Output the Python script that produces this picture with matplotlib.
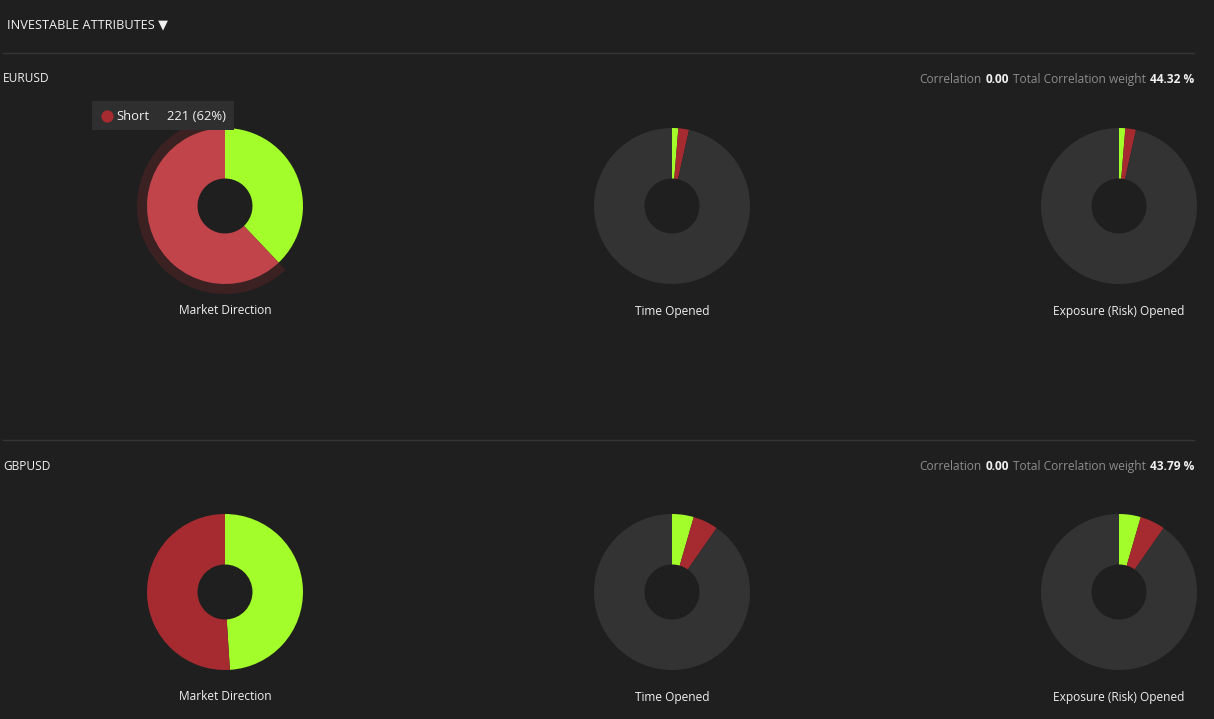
import matplotlib.pyplot as plt
from matplotlib.patches import Rectangle

plt.rcParams['font.family'] = ['Open Sans', 'DejaVu Sans']

# --- data ---
pairs = ["EURUSD", "GBPUSD"]
correlation = [0.00, 0.00]
total_weight = [44.32, 43.79]
chart_titles = ["Market Direction", "Time Opened", "Exposure (Risk) Opened"]
slice_names = ["Long", "Short", "Other"]

# Market Direction: trade counts (Long, Short); others: share in % (Long, Short, Other)
eur_direction = [135, 221]
eur_time = [1.3, 2.2, 96.5]
eur_exposure = [1.3, 2.2, 96.5]
gbp_direction = [49, 51]
gbp_time = [4.5, 5.2, 90.3]
gbp_exposure = [4.5, 5.2, 90.3]

# hovered slice (tooltip): pair 0, chart 0, slice "Short"
hover_pair, hover_chart, hover_slice = 0, 0, 1

BG = "#1f1f1f"
GREEN = "#a3fd2a"
RED = "#a62b31"
RED_HOVER = "#c0444a"
HALO = "#3c2123"
GREY = "#333333"
TXT = "#f0f0f0"
MUTED = "#8c8c8c"

W, H = 1214, 719
fig = plt.figure(figsize=(W / 100, H / 100), dpi=100, facecolor=BG)
renderer = fig.canvas.get_renderer()
bg = fig.add_axes([0, 0, 1, 1])
bg.set_xlim(0, W)
bg.set_ylim(H, 0)
bg.axis("off")

# header
bg.text(7, 25, "INVESTABLE ATTRIBUTES \u25BC", color=TXT, fontsize=9.2,
        va="center", ha="left")

rows = [
    (pairs[0], [eur_direction, eur_time, eur_exposure], 53, 78, 206),
    (pairs[1], [gbp_direction, gbp_time, gbp_exposure], 440, 465, 592),
]
centers_x = [225, 672, 1119]
R_OUT, R_IN, R_HALO = 0.78, 0.275, 0.88
BOX = 200  # pixel size of each pie axes (100 px per data unit)

for ri, (name, charts, sep_y, title_y, cy) in enumerate(rows):
    bg.plot([3, 1194], [sep_y, sep_y], color="#353535", lw=1)
    bg.text(3, title_y + 1, name, color=TXT, fontsize=8.6, va="center", ha="left")

    # right-side correlation text, laid out right to left on a shared baseline
    pieces = [("Correlation", MUTED, "normal"),
              (f"{correlation[ri]:.2f}", TXT, "bold"),
              ("Total Correlation weight", MUTED, "normal"),
              (f"{total_weight[ri]:.2f} %", TXT, "bold")]
    x_right = 1194
    for txt, col, wt in reversed(pieces):
        t = bg.text(x_right, title_y + 5, txt, color=col, fontsize=8.6,
                    fontweight=wt, ha="right", va="baseline")
        w = t.get_window_extent(renderer=renderer).width
        x_right -= w + 4

    for ci, vals in enumerate(charts):
        cx = centers_x[ci]
        ax = fig.add_axes([(cx - BOX / 2) / W, 1 - (cy + BOX / 2) / H, BOX / W, BOX / H])
        cols = [GREEN, RED, GREY][:len(vals)]
        if ri == hover_pair and ci == hover_chart:
            halo_cols = ["none"] * len(vals)
            halo_cols[hover_slice] = HALO
            ax.pie(vals, colors=halo_cols, startangle=90, counterclock=False,
                   radius=R_HALO, wedgeprops=dict(width=R_HALO - R_IN, linewidth=0))
            cols = list(cols)
            cols[hover_slice] = RED_HOVER
        ax.pie(vals, colors=cols, startangle=90, counterclock=False,
               radius=R_OUT, wedgeprops=dict(width=R_OUT - R_IN, linewidth=0))
        ax.set_xlim(-1, 1)
        ax.set_ylim(-1, 1)
        ax.set_aspect("auto")
        ax.axis("off")
        bg.text(cx, cy + 105, chart_titles[ci], color=TXT, fontsize=8.6,
                ha="center", va="center")

# tooltip for the hovered slice, on its own top-level axes
tip = fig.add_axes([0, 0, 1, 1])
tip.set_zorder(10)
tip.set_xlim(0, W)
tip.set_ylim(H, 0)
tip.axis("off")
hv = rows[hover_pair][1][hover_chart]
tip_val = hv[hover_slice]
tip_pct = round(100 * tip_val / sum(hv))
tip.add_patch(Rectangle((92, 101), 142, 29, facecolor="#2f2f2f", edgecolor="none"))
tip.scatter([107], [115.5], s=78, color=RED, linewidths=0, zorder=3)
tip.text(116, 116, slice_names[hover_slice], color=TXT, fontsize=9.4,
         va="center", ha="left", zorder=3)
tip.text(167, 116, f"{tip_val} ({tip_pct}%)", color=TXT, fontsize=9.4,
         va="center", ha="left", zorder=3)

fig.savefig("out.png", dpi=100, facecolor=BG)
